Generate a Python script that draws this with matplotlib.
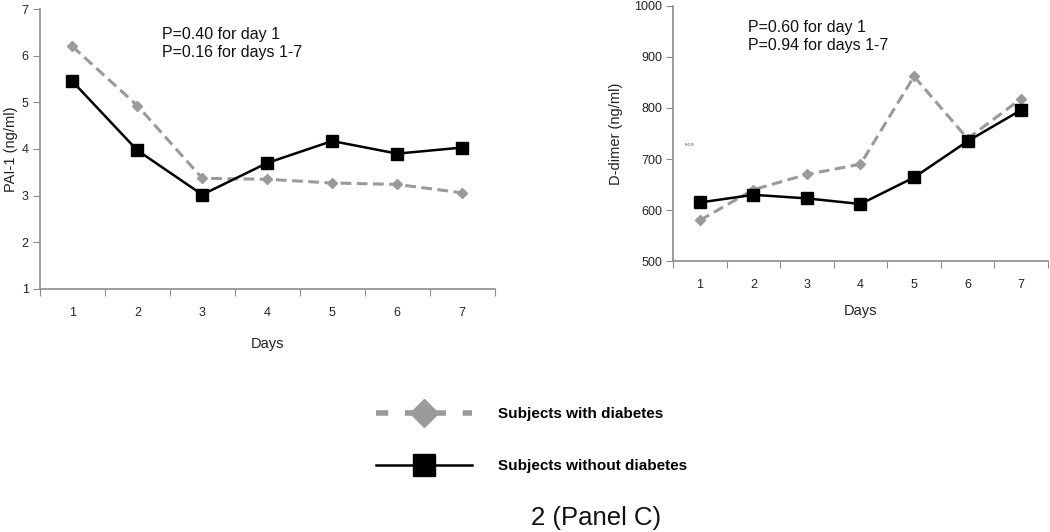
import numpy as np
import matplotlib
matplotlib.use('Agg')
import matplotlib.pyplot as plt
from matplotlib.lines import Line2D
import matplotlib.ticker as mticker

plt.rcParams['font.family'] = ['Liberation Sans', 'DejaVu Sans']

days = ['1', '2', '3', '4', '5', '6', '7']

# PAI-1 (ng/ml)
pai_diab = [6.20, 4.93, 3.37, 3.35, 3.27, 3.24, 3.06]
pai_nodiab = [5.45, 3.97, 3.02, 3.70, 4.17, 3.90, 4.03]

# D-dimer (ng/ml)
dd_diab = [580, 640, 670, 690, 862, 740, 818]
dd_nodiab = [615, 630, 623, 612, 664, 735, 796]

p_left = ['P=0.40 for day 1', 'P=0.16 for days 1-7']
p_right = ['P=0.60 for day 1', 'P=0.94 for days 1-7']

label_diab = 'Subjects with diabetes'
label_nodiab = 'Subjects without diabetes'

gray = '#9a9a9a'
spine_col = '#8c8c8c'

fig = plt.figure(figsize=(10.5, 5.32), dpi=100)
ax1 = fig.add_axes([0.038, 0.457, 0.433, 0.526])
ax2 = fig.add_axes([0.641, 0.509, 0.357, 0.480])


def style_axis(ax, ylim, ystep, xpad):
    x = np.arange(len(days))
    ax.set_xlim(-0.5, len(days) - 0.5)
    ax.set_ylim(*ylim)
    ax.yaxis.set_major_locator(mticker.MultipleLocator(ystep))
    ax.xaxis.set_major_locator(mticker.FixedLocator(np.arange(-0.5, len(days), 1.0)))
    ax.xaxis.set_major_formatter(mticker.NullFormatter())
    ax.xaxis.set_minor_locator(mticker.FixedLocator(x))
    ax.xaxis.set_minor_formatter(mticker.FixedFormatter(days))
    ax.tick_params(axis='x', which='major', length=5, color=spine_col, direction='out')
    ax.tick_params(axis='x', which='minor', length=0, pad=13, labelsize=9, labelcolor='#222222')
    ax.tick_params(axis='y', length=5, color=spine_col, direction='out', labelsize=9,
                   labelcolor='#222222', pad=3)
    for s in ['top', 'right']:
        ax.spines[s].set_visible(False)
    for s in ['left', 'bottom']:
        ax.spines[s].set_color(spine_col)
        ax.spines[s].set_linewidth(1.2)
    ax.set_xlabel('Days', fontsize=10.5, labelpad=xpad, color='#222222')
    return x


x = style_axis(ax1, (1, 7), 1, 13)
ax1.plot(x, pai_diab, color=gray, lw=2.2, ls=(0, (3.5, 1.8)), marker='D', ms=5.5,
         mec=gray, mfc=gray, zorder=2)
ax1.plot(x, pai_nodiab, color='black', lw=1.8, marker='s', ms=8, zorder=3)
ax1.set_ylabel('PAI-1 (ng/ml)', fontsize=10.5, labelpad=3, color='#222222')
ax1.text(0.268, 0.935, p_left[0] + '\n' + p_left[1], transform=ax1.transAxes,
         fontsize=11.5, va='top', ha='left', linespacing=1.25, color='#111111')

x = style_axis(ax2, (500, 1000), 100, 9)
ax2.plot(x, dd_diab, color=gray, lw=2.2, ls=(0, (3.5, 1.8)), marker='D', ms=5.5,
         mec=gray, mfc=gray, zorder=2)
ax2.plot(x, dd_nodiab, color='black', lw=1.8, marker='s', ms=8, zorder=3)
ax2.set_ylabel('D-dimer (ng/ml)', fontsize=10.5, labelpad=8, color='#222222')
ax2.text(0.2, 0.945, p_right[0] + '\n' + p_right[1], transform=ax2.transAxes,
         fontsize=11.5, va='top', ha='left', linespacing=1.25, color='#111111')
ax2.text(0.03, 0.45, 'P=0.20', transform=ax2.transAxes, fontsize=2.2, color='#333333')

handles = [
    Line2D([], [], color=gray, lw=4, ls=(0, (2.2, 3.0)), marker='D', ms=14,
           mec=gray, mfc=gray),
    Line2D([], [], color='black', lw=1.8, marker='s', ms=16),
]
fig.legend(handles, [label_diab, label_nodiab], loc='center left',
           bbox_to_anchor=(0.345, 0.173), frameon=False, handlelength=6.3,
           handletextpad=1.7, labelspacing=2.5, prop={'weight': 'bold', 'size': 11})

fig.text(0.568, 0.027, '2 (Panel C)', ha='center', va='center', fontsize=18.5, color='#111111')

fig.savefig('out.png', dpi=100)
